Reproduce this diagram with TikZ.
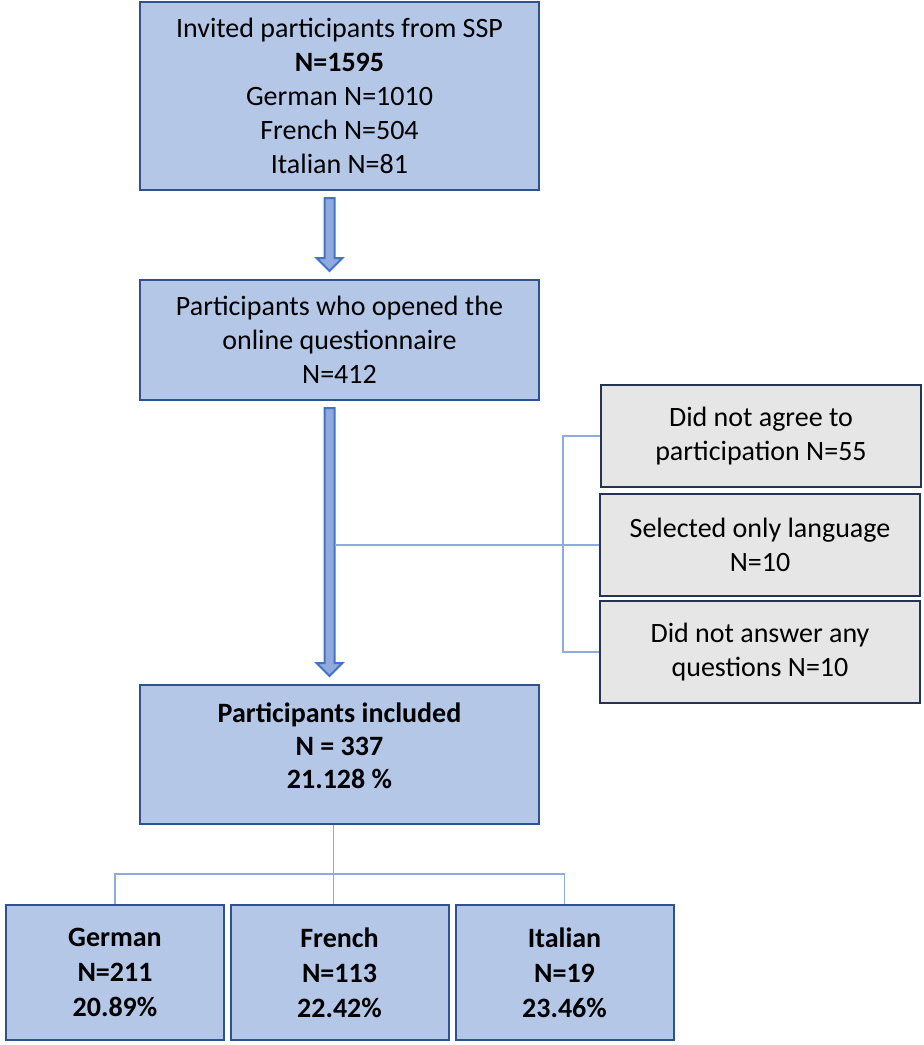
\documentclass[tikz,border=0pt]{standalone}
\usepackage{fontspec}
\setmainfont{Carlito}
\usetikzlibrary{calc}

\definecolor{boxblue}{RGB}{180,199,231}
\definecolor{edgeblue}{RGB}{47,82,143}
\definecolor{boxgray}{RGB}{231,230,230}
\definecolor{edgenavy}{RGB}{38,52,84}
\definecolor{linkblue}{RGB}{143,170,220}
\definecolor{arrowfill}{RGB}{143,170,220}
\definecolor{arrowedge}{RGB}{68,114,196}

% wide block arrow between two boxes
\newcommand{\blockarrow}[2]{%
  \coordinate (s) at ($(#1.south)+(-10,7)$);
  \coordinate (t) at ($(#2.north)+(-10,-8)$);
  \path[block arrow] ($(s)+(-5,0)$) -- ($(t)+(-5,-13)$) -- ($(t)+(-13,-13)$) -- (t)
    -- ($(t)+(13,-13)$) -- ($(t)+(5,-13)$) -- ($(s)+(5,0)$) -- cycle;}

\begin{document}
\begin{tikzpicture}[x=0.5pt,y=-0.5pt,
  every node/.style={font=\fontsize{14}{17}\selectfont, align=center, inner sep=0pt},
  blue box/.style={draw=edgeblue, fill=boxblue, line width=1pt, minimum width=199.5pt},
  gray box/.style={draw=edgenavy, fill=boxgray, line width=1pt, minimum width=160pt, minimum height=51pt},
  lang box/.style={draw=edgeblue, fill=boxblue, line width=1pt, minimum width=109pt, minimum height=67.5pt, font=\fontsize{14}{17.5}\selectfont\bfseries},
  link/.style={draw=linkblue, line width=0.6pt},
  block arrow/.style={draw=arrowedge, fill=arrowfill, line width=1pt, line join=miter}]
  \useasboundingbox (0,0) rectangle (923,1045);

  % main column
  \node[blue box, minimum height=94pt] (invited) at (339.5,96) {Invited participants from SSP\\\textbf{N=1595}\\German N=1010\\French N=504\\Italian N=81};
  \node[blue box, minimum height=60pt] (opened) at (339.5,340) {Participants who opened the\\online questionnaire\\N=412};
  \node[blue box, minimum height=69.5pt, font=\fontsize{14}{16.5}\selectfont\bfseries] (included) at (339.5,754.5) {Participants included\\N = 337\\21.128 \%\\[-8pt]\mbox{}};

  % excluded
  \node[gray box] (disagree) at (761,436) {Did not agree to\\participation N=55};
  \node[gray box] (language) at (760,545) {Selected only language\\N=10};
  \node[gray box] (noanswer) at (760,652) {Did not answer any\\questions N=10};

  % languages
  \node[lang box] (german) at (115,972.5) {German\\N=211\\20.89\%};
  \node[lang box] (french) at (339.5,972.5) {French\\N=113\\22.42\%};
  \node[lang box] (italian) at (564.5,972.5) {Italian\\N=19\\23.46\%};

  \blockarrow{invited}{opened}
  \blockarrow{opened}{included}

  \coordinate (brace) at (563,545);
  \draw[link] (disagree.west) -| (brace) |- (noanswer.west);
  \draw[link] (language.west) -- ($(language.west -| opened.south)+(-5,0)$);

  \coordinate (split) at (333,874);
  \draw[link] ($(included.south)+(-6,0)$) -- ($(french.north)+(-6,0)$);
  \draw[link] (german.north) |- (split) -| (italian.north);
\end{tikzpicture}
\end{document}
